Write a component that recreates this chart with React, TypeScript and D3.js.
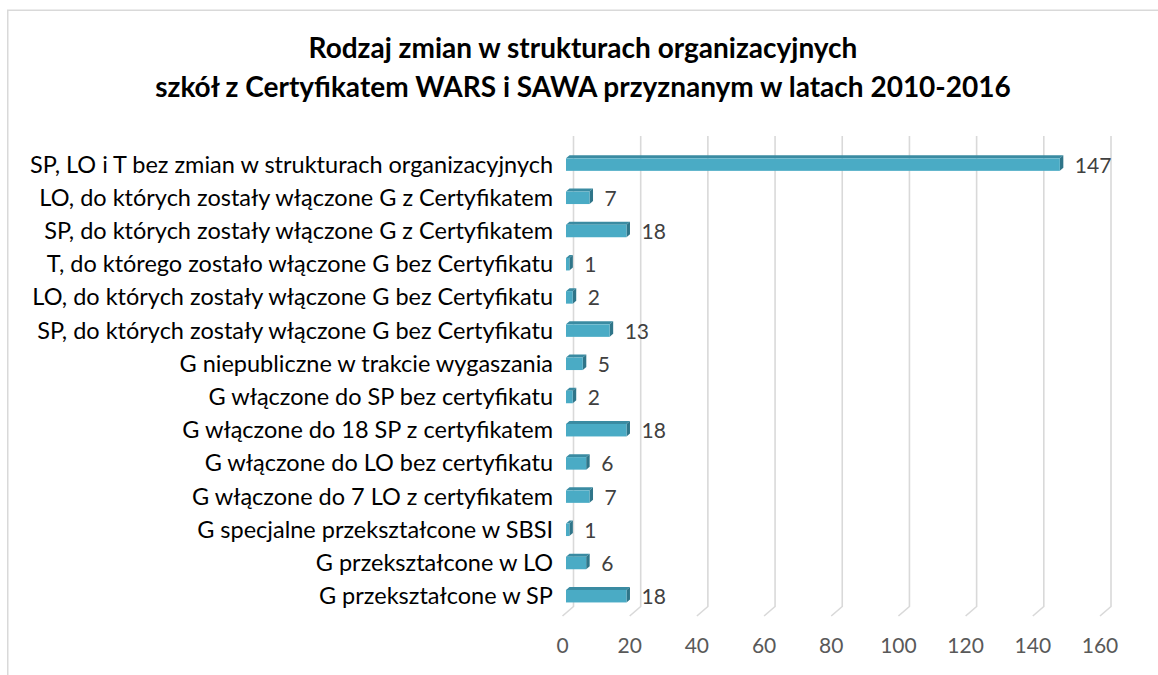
import React, { useEffect, useRef } from "react";
import * as d3 from "d3";

const W = 1158;
const H = 675;

const TITLE_LINES = [
  "Rodzaj zmian w strukturach organizacyjnych",
  "szkół z Certyfikatem WARS i SAWA przyznanym w latach 2010-2016",
];

const CATEGORIES = [
  "SP, LO i T bez zmian w strukturach organizacyjnych",
  "LO, do których zostały włączone G z Certyfikatem",
  "SP, do których zostały włączone G z Certyfikatem",
  "T, do którego zostało włączone G bez Certyfikatu",
  "LO, do których zostały włączone G bez Certyfikatu",
  "SP, do których zostały włączone G bez Certyfikatu",
  "G niepubliczne w trakcie wygaszania",
  "G włączone do SP bez certyfikatu",
  "G włączone do 18 SP z certyfikatem",
  "G włączone do LO bez certyfikatu",
  "G włączone do 7 LO z certyfikatem",
  "G specjalne przekształcone w SBSI",
  "G przekształcone w LO",
  "G przekształcone w SP",
];

const VALUES = [147, 7, 18, 1, 2, 13, 5, 2, 18, 6, 7, 1, 6, 18];

const TICKS = [0, 20, 40, 60, 80, 100, 120, 140, 160];

const FONT = "Lato, 'Open Sans', sans-serif";

// 3D look, Excel style
const FLOOR = { dx: -11, dy: 9.5 }; // gridline foot slant
const BAR_SHIFT = -7.5; // front face offset from back wall
const DEPTH = { dx: 3.5, dy: -3 };
const BAR_H = 12.5;

export default function App() {
  const svgRef = useRef<SVGSVGElement | null>(null);

  useEffect(() => {
    const svg = d3.select(svgRef.current);
    svg.selectAll("*").remove();

    const x = d3.scaleLinear().domain([0, 160]).range([573.5, 1111]);
    const y = d3
      .scaleBand<string>()
      .domain(CATEGORIES)
      .range([148, 148 + CATEGORIES.length * 33.2]);

    const plotTop = 136;
    const plotBottom = 606.5;

    // frame
    svg
      .append("rect")
      .attr("x", 7.75)
      .attr("y", 10.25)
      .attr("width", 1300)
      .attr("height", 800)
      .attr("fill", "none")
      .attr("stroke", "#d9d9d9")
      .attr("stroke-width", 1.5);

    // title
    svg
      .append("g")
      .selectAll("text")
      .data(TITLE_LINES)
      .join("text")
      .attr("x", 583)
      .attr("y", (_d, i) => 58 + i * 39)
      .attr("text-anchor", "middle")
      .attr("font-family", FONT)
      .attr("font-size", 28)
      .attr("font-weight", 700)
      .attr("fill", "#000")
      .text((d) => d);

    // gridlines with slanted feet
    const grid = svg.append("g");
    grid
      .selectAll("path")
      .data(TICKS)
      .join("path")
      .attr(
        "d",
        (t) =>
          `M${x(t)},${plotTop}L${x(t)},${plotBottom}L${x(t) + FLOOR.dx},${plotBottom + FLOOR.dy}`,
      )
      .attr("fill", "none")
      .attr("stroke", "#d9d9d9")
      .attr("stroke-width", 1.6);

    // tick labels
    svg
      .append("g")
      .selectAll("text")
      .data(TICKS)
      .join("text")
      .attr("x", (t) => x(t) + FLOOR.dx)
      .attr("y", 653)
      .attr("text-anchor", "middle")
      .attr("font-family", FONT)
      .attr("font-size", 21)
      .attr("fill", "#595959")
      .text((t) => t);

    // bars
    const rows = CATEGORIES.map((c, i) => ({ c, v: VALUES[i] }));
    const bars = svg.append("g");
    rows.forEach((r) => {
      const cy = (y(r.c) ?? 0) + y.bandwidth() / 2;
      const x0 = x(0) + BAR_SHIFT;
      const x1 = x(r.v) + BAR_SHIFT;
      const y0 = cy - BAR_H / 2;
      const y1 = cy + BAR_H / 2;
      // top face
      bars
        .append("path")
        .attr(
          "d",
          `M${x0},${y0}L${x0 + DEPTH.dx},${y0 + DEPTH.dy}L${x1 + DEPTH.dx},${y0 + DEPTH.dy}L${x1},${y0}Z`,
        )
        .attr("fill", "#3a8ba2");
      // side face
      bars
        .append("path")
        .attr(
          "d",
          `M${x1},${y0}L${x1 + DEPTH.dx},${y0 + DEPTH.dy}L${x1 + DEPTH.dx},${y1 + DEPTH.dy}L${x1},${y1}Z`,
        )
        .attr("fill", "#2f7589");
      // front face
      bars
        .append("rect")
        .attr("x", x0)
        .attr("y", y0)
        .attr("width", Math.max(0, x1 - x0))
        .attr("height", BAR_H)
        .attr("fill", "#4aabc5");
      // value label
      bars
        .append("text")
        .attr("x", x1 + 15)
        .attr("y", cy + 8)
        .attr("font-family", FONT)
        .attr("font-size", 21)
        .attr("fill", "#404040")
        .text(r.v);
    });

    // category labels
    svg
      .append("g")
      .selectAll("text")
      .data(CATEGORIES)
      .join("text")
      .attr("x", 553)
      .attr("y", (c) => (y(c) ?? 0) + y.bandwidth() / 2 + 8)
      .attr("text-anchor", "end")
      .attr("font-family", FONT)
      .attr("font-size", 23.5)
      .attr("fill", "#000")
      .text((c) => c);
  }, []);

  return (
    <div style={{ position: "absolute", left: 0, top: 0, width: W, height: H, background: "#fff" }}>
      <svg ref={svgRef} width={W} height={H} />
    </div>
  );
}
